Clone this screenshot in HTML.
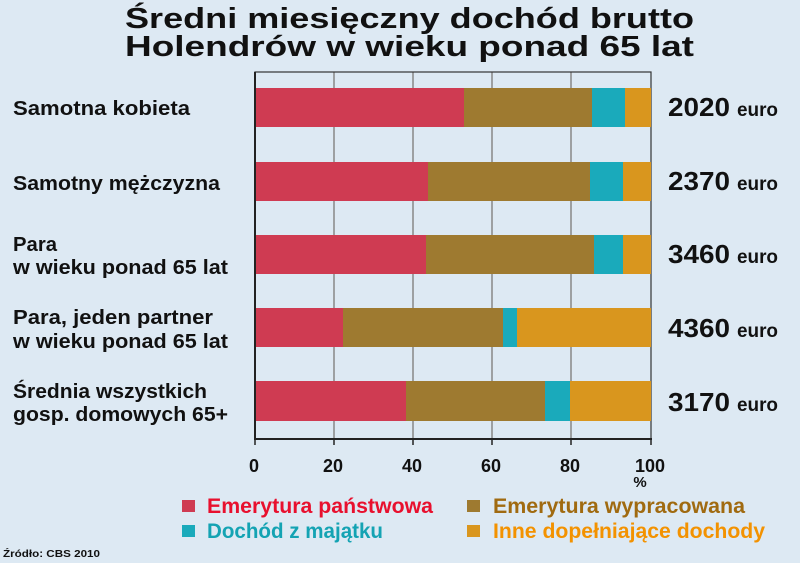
<!DOCTYPE html>
<html><head><meta charset="utf-8"><style>html,body{margin:0;padding:0;background:#dde9f3}svg{display:block}text{font-family:"Liberation Sans",sans-serif;font-weight:bold}</style></head><body>
<svg width="800" height="563" viewBox="0 0 800 563" xmlns="http://www.w3.org/2000/svg">
<rect width="800" height="563" fill="#dde9f3"/>
<text x="125" y="28" font-size="29" textLength="569" lengthAdjust="spacingAndGlyphs" fill="#111">Średni miesięczny dochód brutto</text>
<text x="125" y="56" font-size="29" textLength="569" lengthAdjust="spacingAndGlyphs" fill="#111">Holendrów w wieku ponad 65 lat</text>
<g stroke="#888" stroke-width="1.5">
<line x1="334" y1="72" x2="334" y2="439"/><line x1="413" y1="72" x2="413" y2="439"/><line x1="492" y1="72" x2="492" y2="439"/><line x1="571" y1="72" x2="571" y2="439"/>
</g>
<rect x="255" y="72" width="396" height="367" fill="none" stroke="#333" stroke-width="1.2"/>
<g>
<rect x="255" y="88" width="209" height="39" fill="#cf3b52"/><rect x="464" y="88" width="128" height="39" fill="#9e7a30"/><rect x="592" y="88" width="33" height="39" fill="#1aaabb"/><rect x="625" y="88" width="26" height="39" fill="#d9961e"/>
<rect x="255" y="162" width="173" height="39" fill="#cf3b52"/><rect x="428" y="162" width="162" height="39" fill="#9e7a30"/><rect x="590" y="162" width="33" height="39" fill="#1aaabb"/><rect x="623" y="162" width="28" height="39" fill="#d9961e"/>
<rect x="255" y="235" width="171" height="39" fill="#cf3b52"/><rect x="426" y="235" width="168" height="39" fill="#9e7a30"/><rect x="594" y="235" width="29" height="39" fill="#1aaabb"/><rect x="623" y="235" width="28" height="39" fill="#d9961e"/>
<rect x="255" y="308" width="88" height="39" fill="#cf3b52"/><rect x="343" y="308" width="160" height="39" fill="#9e7a30"/><rect x="503" y="308" width="14" height="39" fill="#1aaabb"/><rect x="517" y="308" width="134" height="39" fill="#d9961e"/>
<rect x="255" y="381" width="151" height="40" fill="#cf3b52"/><rect x="406" y="381" width="139" height="40" fill="#9e7a30"/><rect x="545" y="381" width="25" height="40" fill="#1aaabb"/><rect x="570" y="381" width="81" height="40" fill="#d9961e"/>
</g>
<line x1="254" y1="439" x2="652" y2="439" stroke="#222" stroke-width="2"/>
<line x1="255" y1="72" x2="255" y2="440" stroke="#222" stroke-width="2"/>
<g stroke="#222" stroke-width="1.5"><line x1="334" y1="439" x2="334" y2="445"/><line x1="413" y1="439" x2="413" y2="445"/><line x1="492" y1="439" x2="492" y2="445"/><line x1="571" y1="439" x2="571" y2="445"/><line x1="651" y1="439" x2="651" y2="445"/><line x1="255" y1="439" x2="255" y2="445"/></g>
<g font-size="18" fill="#111" text-anchor="middle" style="font-weight:normal">
<text x="254" y="472">0</text><text x="333" y="472">20</text><text x="412" y="472">40</text><text x="491" y="472">60</text><text x="570" y="472">80</text><text x="650" y="472">100</text><text x="640" y="487" font-size="15">%</text>
</g>
<g font-size="20" fill="#111">
<text x="13" y="115" textLength="177" lengthAdjust="spacingAndGlyphs">Samotna kobieta</text>
<text x="13" y="190" textLength="207" lengthAdjust="spacingAndGlyphs">Samotny mężczyzna</text>
<text x="13" y="251" textLength="44" lengthAdjust="spacingAndGlyphs">Para</text>
<text x="13" y="274" textLength="215" lengthAdjust="spacingAndGlyphs">w wieku ponad 65 lat</text>
<text x="13" y="324" textLength="200" lengthAdjust="spacingAndGlyphs">Para, jeden partner</text>
<text x="13" y="348" textLength="215" lengthAdjust="spacingAndGlyphs">w wieku ponad 65 lat</text>
<text x="13" y="398" textLength="194" lengthAdjust="spacingAndGlyphs">Średnia wszystkich</text>
<text x="13" y="421" textLength="215" lengthAdjust="spacingAndGlyphs">gosp. domowych 65+</text>
</g>
<g fill="#111">
<text x="668" y="116" font-size="26" textLength="62" lengthAdjust="spacingAndGlyphs">2020</text><text x="737" y="116" font-size="19" textLength="41" lengthAdjust="spacingAndGlyphs">euro</text>
<text x="668" y="190" font-size="26" textLength="62" lengthAdjust="spacingAndGlyphs">2370</text><text x="737" y="190" font-size="19" textLength="41" lengthAdjust="spacingAndGlyphs">euro</text>
<text x="668" y="263" font-size="26" textLength="62" lengthAdjust="spacingAndGlyphs">3460</text><text x="737" y="263" font-size="19" textLength="41" lengthAdjust="spacingAndGlyphs">euro</text>
<text x="668" y="337" font-size="26" textLength="62" lengthAdjust="spacingAndGlyphs">4360</text><text x="737" y="337" font-size="19" textLength="41" lengthAdjust="spacingAndGlyphs">euro</text>
<text x="668" y="411" font-size="26" textLength="62" lengthAdjust="spacingAndGlyphs">3170</text><text x="737" y="411" font-size="19" textLength="41" lengthAdjust="spacingAndGlyphs">euro</text>
</g>
<rect x="182" y="500" width="13" height="12" fill="#cf3b52"/>
<text x="207" y="513" font-size="21" fill="#e8102e" textLength="226" lengthAdjust="spacingAndGlyphs">Emerytura państwowa</text>
<rect x="467" y="500" width="13" height="12" fill="#9e7a30"/>
<text x="493" y="513" font-size="21" fill="#a06a10" textLength="252" lengthAdjust="spacingAndGlyphs">Emerytura wypracowana</text>
<rect x="182" y="525" width="13" height="12" fill="#1aaabb"/>
<text x="207" y="538" font-size="21" fill="#14a3b3" textLength="176" lengthAdjust="spacingAndGlyphs">Dochód z majątku</text>
<rect x="467" y="525" width="13" height="12" fill="#d9961e"/>
<text x="493" y="538" font-size="21" fill="#f39200" textLength="272" lengthAdjust="spacingAndGlyphs">Inne dopełniające dochody</text>
<text x="3" y="557" font-size="10" fill="#111" textLength="97" lengthAdjust="spacingAndGlyphs">Źródło: CBS 2010</text>
</svg>
</body></html>
